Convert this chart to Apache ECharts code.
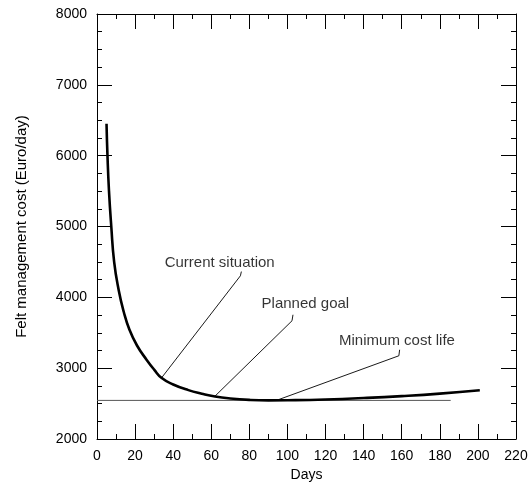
<!DOCTYPE html>
<html>
<head>
<meta charset="utf-8">
<script src="https://cdn.jsdelivr.net/npm/echarts@6/dist/echarts.min.js"></script>
<style>
html,body{margin:0;padding:0;background:#fff;}
#chart{width:531px;height:484px;}
</style>
</head>
<body>
<div id="chart"></div>
<script>
// Felt management cost curve (days, Euro/day)
var costDays = [5.0, 5.5, 6.3, 7.5, 9.0, 11.4, 14, 17, 21, 26, 30, 34, 40, 48, 55, 62, 70, 80, 90, 100, 120, 140, 160, 180, 201];
var costValues = [6450, 6000, 5500, 5000, 4500, 4100, 3800, 3545, 3320, 3120, 2980, 2860, 2770, 2690, 2640, 2600, 2572, 2552, 2545, 2547, 2558, 2578, 2605, 2640, 2688];

// Minimum cost reference line
var minLineDays = [0, 185.7];
var minLineValues = [2545, 2545];

// Annotation labels
var labelTexts = ["Current situation", "Planned goal", "Minimum cost life"];
var labelDays = [64.4, 109.4, 157.5];
var labelValues = [4480, 3904, 3391];

// Leader lines: curve point -> end -> hook
var leaderCurrentDays = [33.8, 75.3, 75.8];
var leaderCurrentValues = [2860, 4304, 4364];
var leaderPlannedDays = [61.8, 102.4, 102.9];
var leaderPlannedValues = [2601, 3669, 3754];
var leaderMinDays = [94.2, 158.5, 158.9];
var leaderMinValues = [2545, 3175, 3260];

// Axis settings
var xMin = 0, xMax = 220, xStep = 20;
var yMin = 2000, yMax = 8000, yStep = 1000;

function pairs(xs, ys) { return xs.map(function (x, i) { return [x, ys[i]]; }); }
var FONT = 'Liberation Sans, Arial, sans-serif';
var chart = echarts.init(document.getElementById('chart'), null, { renderer: 'canvas' });
function plain(v) { return String(v); }

function xAxisDef(pos, showLabel) {
  return {
    type: 'value', position: pos, min: xMin, max: xMax, interval: xStep,
    name: showLabel ? 'Days' : '', nameLocation: 'middle', nameGap: 27,
    nameTextStyle: { color: '#000', fontSize: 14, fontFamily: FONT },
    axisLine: { show: true, onZero: false, lineStyle: { color: '#000', width: 1 } },
    axisTick: { show: true, inside: true, length: 15, lineStyle: { color: '#000', width: 1 } },
    minorTick: { show: true, splitNumber: 2, length: 5, lineStyle: { color: '#000', width: 1 } },
    axisLabel: { show: showLabel, color: '#000', fontSize: 14, fontFamily: FONT, margin: 10, formatter: plain },
    splitLine: { show: false }
  };
}
function yAxisDef(pos, showLabel) {
  return {
    type: 'value', position: pos, min: yMin, max: yMax, interval: yStep,
    name: showLabel ? 'Felt management cost (Euro/day)' : '', nameLocation: 'middle', nameGap: 68,
    nameRotate: 90,
    nameTextStyle: { color: '#000', fontSize: 15, fontFamily: FONT },
    axisLine: { show: true, onZero: false, lineStyle: { color: '#000', width: 1 } },
    axisTick: { show: true, inside: true, length: 15, lineStyle: { color: '#000', width: 1 } },
    minorTick: { show: true, splitNumber: 4, length: 5, lineStyle: { color: '#000', width: 1 } },
    axisLabel: { show: showLabel, color: '#000', fontSize: 14, fontFamily: FONT, margin: 10, formatter: plain },
    splitLine: { show: false }
  };
}
function leader(xs, ys) {
  return { type: 'line', data: pairs(xs, ys), symbol: 'none', silent: true,
    lineStyle: { color: '#000', width: 0.9 }, z: 3 };
}
var option = {
  animation: false,
  backgroundColor: '#fff',
  grid: { left: 97, right: 15, top: 14, bottom: 45, outerBoundsMode: 'none' },
  xAxis: [xAxisDef('bottom', true), xAxisDef('top', false)],
  yAxis: [yAxisDef('left', true), yAxisDef('right', false)],
  series: [
    { type: 'line', data: pairs(minLineDays, minLineValues), symbol: 'none', lineStyle: { color: '#555', width: 1 }, z: 2 },
    { type: 'line', data: pairs(costDays, costValues), symbol: 'none', smooth: 0.5, lineStyle: { color: '#000', width: 2.6 }, z: 4 },
    leader(leaderCurrentDays, leaderCurrentValues),
    leader(leaderPlannedDays, leaderPlannedValues),
    leader(leaderMinDays, leaderMinValues),
    { type: 'scatter', symbolSize: 1, itemStyle: { color: 'rgba(0,0,0,0)' },
      data: labelDays.map(function (d, i) { return { value: [d, labelValues[i]], name: labelTexts[i] }; }),
      label: { show: true, position: 'inside', formatter: '{b}', color: '#000', fontSize: 15, fontFamily: FONT }, z: 5 }
  ]
};
chart.setOption(option);
</script>
</body>
</html>
